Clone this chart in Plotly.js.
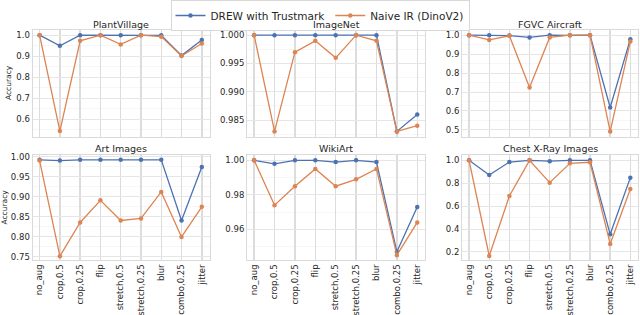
<!DOCTYPE html>
<html><head><meta charset="utf-8">
<script src="https://cdn.plot.ly/plotly-3.0.1.min.js"></script>
<style>html,body{margin:0;padding:0;background:#fff}#chart{width:640px;height:315px}</style>
</head><body><div id="chart"></div>
<script>
const categories = ["no_aug","crop,0.5","crop,0.25","flip","stretch,0.5","stretch,0.25","blur","combo,0.25","jitter"];
const seriesNames = ["DREW with Trustmark","Naive IR (DinoV2)"];
const panelTitles = ["PlantVillage","ImageNet","FGVC Aircraft","Art Images","WikiArt","Chest X-Ray Images"];

const plantDrew  = [1.0, 0.949, 1.0, 1.0, 1.0, 1.0, 0.999, 0.903, 0.977];
const plantNaive = [1.0, 0.543, 0.973, 1.0, 0.956, 1.0, 0.993, 0.901, 0.960];
const imagenetDrew  = [1.0, 1.0, 1.0, 1.0, 1.0, 1.0, 1.0, 0.983, 0.986];
const imagenetNaive = [1.0, 0.983, 0.997, 0.999, 0.996, 1.0, 0.999, 0.983, 0.984];
const fgvcDrew  = [1.0, 1.0, 0.998, 0.988, 1.0, 0.999, 1.0, 0.618, 0.979];
const fgvcNaive = [1.0, 0.975, 0.997, 0.724, 0.988, 1.0, 1.0, 0.491, 0.967];
const artDrew  = [0.992, 0.990, 0.992, 0.992, 0.992, 0.992, 0.992, 0.841, 0.974];
const artNaive = [0.990, 0.752, 0.836, 0.891, 0.841, 0.846, 0.912, 0.800, 0.875];
const wikiDrew  = [1.0, 0.998, 1.0, 1.0, 0.999, 1.0, 0.999, 0.947, 0.973];
const wikiNaive = [1.0, 0.974, 0.985, 0.995, 0.985, 0.989, 0.995, 0.945, 0.964];
const chestDrew  = [1.0, 0.872, 0.985, 1.0, 0.993, 1.0, 1.0, 0.354, 0.849];
const chestNaive = [1.0, 0.165, 0.689, 1.0, 0.805, 0.974, 0.983, 0.270, 0.750];

const yTickVals = [
  [0.6,0.7,0.8,0.9,1.0],
  [0.985,0.990,0.995,1.000],
  [0.5,0.6,0.7,0.8,0.9,1.0],
  [0.75,0.80,0.85,0.90,0.95,1.00],
  [0.96,0.98,1.00],
  [0.2,0.4,0.6,0.8,1.0]
];
const yTickFormats = [".1f",".3f",".1f",".2f",".2f",".1f"];
const yRanges = [[0.517,1.027],[0.9821,1.001],[0.465,1.03],[0.7425,1.004],[0.9422,1.0031],[0.13,1.0465]];
const yMinorDtick = [0.05,0.0025,0.05,0.025,0.01,0.1];

const drewData = [plantDrew, imagenetDrew, fgvcDrew, artDrew, wikiDrew, chestDrew];
const naiveData = [plantNaive, imagenetNaive, fgvcNaive, artNaive, wikiNaive, chestNaive];

const W = 640, H = 315;
const colPx = [[32.5,209.5],[247,425],[462,638]];
const rowPx = [[29.5,136.5],[155,260]];
const yLabelX = [9, 4];
const colors = ["#4C72B0","#DD8452"];
const font = "DejaVu Sans, sans-serif";

const traces = [];
const layout = {
  width: W, height: H,
  margin: {l:0,r:0,t:0,b:0},
  paper_bgcolor: "#fff", plot_bgcolor: "#fff",
  font: {family: font, color: "#262626"},
  showlegend: true,
  legend: {
    orientation: "h", x: 0.5, xanchor: "center", y: 1.0, yanchor: "top",
    bgcolor: "#fff", bordercolor: "#d8d8d8", borderwidth: 1,
    font: {size: 10.5, family: font, color: "#262626"},
    itemwidth: 30, tracegroupgap: 0
  },
  annotations: []
};

for (let i = 0; i < 6; i++) {
  const r = Math.floor(i/3), c = i % 3;
  const sfx = i === 0 ? "" : String(i+1);
  const xd = [colPx[c][0]/W, colPx[c][1]/W];
  const yd = [1 - rowPx[r][1]/H, 1 - rowPx[r][0]/H];
  [drewData[i], naiveData[i]].forEach((ys, k) => {
    traces.push({
      type: "scatter", mode: "lines+markers",
      x: categories, y: ys,
      xaxis: "x"+sfx, yaxis: "y"+sfx,
      name: seriesNames[k], legendgroup: seriesNames[k], showlegend: i === 0,
      line: {color: colors[k], width: 1.3},
      marker: {color: colors[k], size: 4.5}
    });
  });
  layout["xaxis"+sfx] = {
    domain: xd, anchor: "y"+sfx,
    type: "category", categoryorder: "array", categoryarray: categories,
    range: [-0.35, 8.38],
    showticklabels: r === 1, tickangle: -90,
    tickfont: {size: 8.5, family: font, color: "#262626"},
    ticks: "", ticklabelstandoff: 0,
    showgrid: true, gridcolor: "#dcdcdc", gridwidth: 1.4,
    showline: true, mirror: true, linecolor: "#dadada", linewidth: 1,
    zeroline: false, fixedrange: true
  };
  layout["yaxis"+sfx] = {
    domain: yd, anchor: "x"+sfx,
    range: yRanges[i], tickvals: yTickVals[i], tickformat: yTickFormats[i],
    tickfont: {size: 8.5, family: font, color: "#262626"},
    ticks: "", showgrid: true, gridcolor: "#e6e6e6", gridwidth: 1,
    minor: {dtick: yMinorDtick[i], tick0: 0, showgrid: true, gridcolor: "#f4f4f4", gridwidth: 0.8},
    showline: true, mirror: true, linecolor: "#dadada", linewidth: 1,
    zeroline: false, fixedrange: true
  };
  layout.annotations.push({
    text: panelTitles[i], xref: "paper", yref: "paper",
    x: (xd[0]+xd[1])/2, y: 1 - (r === 0 ? 25 : 148.5)/H,
    xanchor: "center", yanchor: "middle", showarrow: false,
    font: {size: 9.5, family: font, color: "#262626"}
  });
  if (c === 0) {
    layout.annotations.push({
      text: "Accuracy", xref: "paper", yref: "paper",
      x: yLabelX[r]/W, y: (yd[0]+yd[1])/2, textangle: -90,
      xanchor: "center", yanchor: "middle", showarrow: false,
      font: {size: 7.5, family: font, color: "#262626"}
    });
  }
}

Plotly.newPlot("chart", traces, layout, {staticPlot: true, displayModeBar: false});
</script>
</body></html>
